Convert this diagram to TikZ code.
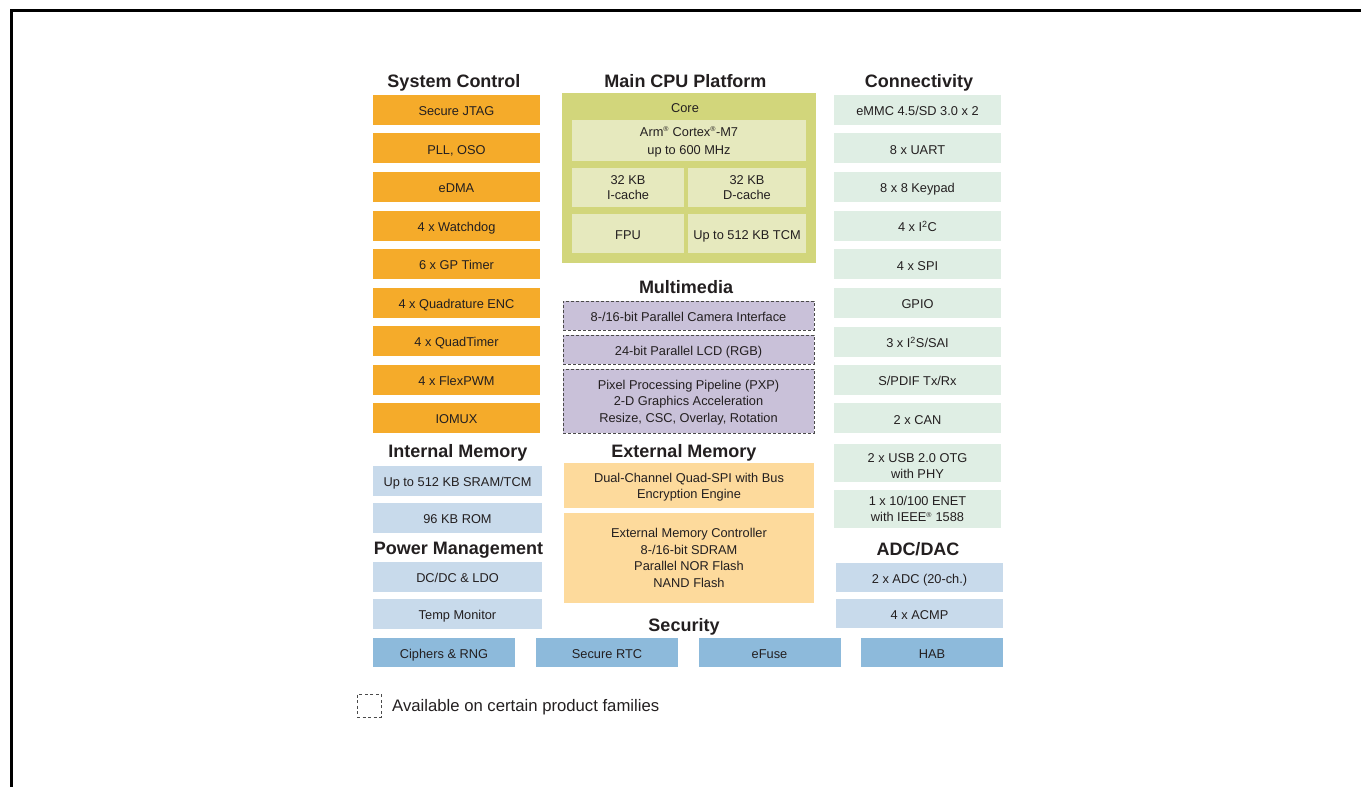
\documentclass[tikz,border=0pt]{standalone}
\usepackage{fontspec}
\setmainfont{Liberation Sans}
\definecolor{txt}{HTML}{231F20}
\definecolor{sysor}{HTML}{F5AB2A}
\definecolor{memblue}{HTML}{C8DAEB}
\definecolor{secblue}{HTML}{8DBADB}
\definecolor{congreen}{HTML}{DFEEE4}
\definecolor{extpeach}{HTML}{FDDA9C}
\definecolor{mmlav}{HTML}{C9C1D9}
\definecolor{cpuolive}{HTML}{D2D67B}
\definecolor{cpuin}{HTML}{E6E9BE}
\definecolor{dashgray}{HTML}{4A4A4A}
\begin{document}
\begin{tikzpicture}[x=1pt,y=-1pt,
  blk/.style={draw=none, inner sep=0pt, align=center, text=txt, text depth=0pt,
    font=\fontsize{12.8}{16}\selectfont},
  one/.style={text height=12pt, text depth=0pt},
  sysbox/.style={blk, one, fill=sysor, minimum width=167pt, minimum height=30pt},
  membox/.style={blk, one, fill=memblue, minimum width=169pt, minimum height=30pt},
  conbox/.style={blk, one, fill=congreen, minimum width=167pt, minimum height=30pt},
  adcbox/.style={blk, one, fill=memblue, minimum width=167pt, minimum height=29pt},
  secbox/.style={blk, one, fill=secblue, minimum width=142pt, minimum height=29pt},
  mmbox/.style={blk, fill=mmlav, draw=dashgray, line width=0.9pt,
    dash pattern=on 3pt off 2pt, minimum width=251pt},
  extbox/.style={blk, fill=extpeach, minimum width=250pt},
  cpuinbox/.style={blk, fill=cpuin},
  hd/.style={inner sep=0pt, text=txt, font=\bfseries\fontsize{18}{20}\selectfont,
    text height=13pt, text depth=3.5pt}
]
\useasboundingbox (0,0) rectangle (1361,787);

% frame
\coordinate (fbl) at (11.3,800);
\coordinate (ftl) at (11.3,10.7);
\coordinate (ftr) at (1375,10.7);
\draw[line width=2.5pt, line join=miter] (fbl) -- (ftl) -- (ftr);

% headings
\node[hd] (hsys) at (454,82.5) {System Control};
\node[hd] (hcpu) at (685.5,82.5) {Main CPU Platform};
\node[hd] (hcon) at (919,83) {Connectivity};
\node[hd] (hmm) at (686,289) {Multimedia};
\node[hd] (hint) at (458,452.5) {Internal Memory};
\node[hd] (hext) at (684,452.5) {External Memory};
\node[hd] (hpow) at (458.5,550) {Power Management};
\node[hd] (hadc) at (918,551) {ADC/DAC};
\node[hd] (hsec) at (684,627) {Security};

% system control
\node[sysbox] (jtag) at (456.5,109.5) {Secure JTAG};
\node[sysbox] (pll) at (456.5,148) {PLL, OSO};
\node[sysbox] (edma) at (456.5,186.5) {eDMA};
\node[sysbox] (wdog) at (456.5,225.5) {4 x Watchdog};
\node[sysbox] (gpt) at (456.5,263.5) {6 x GP Timer};
\node[sysbox] (qenc) at (456.5,302.5) {4 x Quadrature ENC};
\node[sysbox] (qtmr) at (456.5,340.5) {4 x QuadTimer};
\node[sysbox] (pwm) at (456.5,379.5) {4 x FlexPWM};
\node[sysbox] (iomux) at (456.5,417.5) {IOMUX};

% internal memory & power
\node[membox] (sram) at (457.5,480.5) {Up to 512 KB SRAM/TCM};
\node[membox] (rom) at (457.5,517.5) {96 KB ROM};
\node[membox] (dcdc) at (457.5,576.5) {DC/DC \& LDO};
\node[membox] (temp) at (457.5,613.5) {Temp Monitor};

% CPU platform
\node[blk, fill=cpuolive, minimum width=254pt, minimum height=170pt] (cpu) at (689,178) {};
\node[blk, one] (core) at (685,106.5) {Core};
\node[cpuinbox, minimum width=234pt, minimum height=41pt, font=\fontsize{12.8}{18}\selectfont] (arm) at (689,140.5)
  {Arm\textsuperscript{\fontsize{7}{7}\selectfont®} Cortex\textsuperscript{\fontsize{7}{7}\selectfont®}-M7\\up to 600 MHz};
\node[cpuinbox, minimum width=112pt, minimum height=39pt, font=\fontsize{12.8}{15}\selectfont] (icache) at (628,187.5) {32 KB\\I-cache};
\node[cpuinbox, minimum width=118pt, minimum height=39pt, font=\fontsize{12.8}{15}\selectfont] (dcache) at (747,187.5) {32 KB\\D-cache};
\node[cpuinbox, one, minimum width=112pt, minimum height=39pt] (fpu) at (628,233.5) {FPU};
\node[cpuinbox, one, minimum width=118pt, minimum height=39pt] (tcm) at (747,233.5) {Up to 512 KB TCM};

% multimedia
\node[mmbox, one, minimum height=29pt] (cam) at (688.5,315.5) {8-/16-bit Parallel Camera Interface};
\node[mmbox, one, minimum height=29pt] (lcd) at (688.5,349.5) {24-bit Parallel LCD (RGB)};
\node[mmbox, minimum height=64pt, font=\fontsize{12.8}{16.4}\selectfont] (pxp) at (688.5,401)
  {Pixel Processing Pipeline (PXP)\\2-D Graphics Acceleration\\Resize, CSC, Overlay, Rotation};

% external memory
\node[extbox, minimum height=45pt] (qspi) at (689,485.5) {Dual-Channel Quad-SPI with Bus\\Encryption Engine};
\node[extbox, minimum height=90pt, font=\fontsize{12.8}{16.7}\selectfont] (emc) at (689,558)
  {External Memory Controller\\8-/16-bit SDRAM\\Parallel NOR Flash\\NAND Flash};

% connectivity
\node[conbox] (emmc) at (917.5,109.5) {eMMC 4.5/SD 3.0 x 2};
\node[conbox] (uart) at (917.5,148) {8 x UART};
\node[conbox] (kpp) at (917.5,186.5) {8 x 8 Keypad};
\node[conbox] (i2c) at (917.5,225.5) {4 x I\textsuperscript{2}C};
\node[conbox] (spi) at (917.5,264) {4 x SPI};
\node[conbox] (gpio) at (917.5,302.5) {GPIO};
\node[conbox] (i2s) at (917.5,341.5) {3 x I\textsuperscript{2}S/SAI};
\node[conbox] (spdif) at (917.5,379.5) {S/PDIF Tx/Rx};
\node[conbox] (can) at (917.5,418) {2 x CAN};
\node[blk, fill=congreen, minimum width=167pt, minimum height=38pt, text height=30pt] (usb) at (917.5,463) {2 x USB 2.0 OTG\\with PHY};
\node[blk, fill=congreen, minimum width=167pt, minimum height=38pt] (enet) at (917.5,509) {1 x 10/100 ENET\\with IEEE\textsuperscript{\fontsize{7}{7}\selectfont®} 1588};

% ADC/DAC
\node[adcbox] (adc) at (919.5,577.5) {2 x ADC (20-ch.)};
\node[adcbox] (acmp) at (919.5,613) {4 x ACMP};

% security
\node[secbox] (cipher) at (444,652.5) {Ciphers \& RNG};
\node[secbox] (rtc) at (607,652.5) {Secure RTC};
\node[secbox] (efuse) at (769.5,652.5) {eFuse};
\node[secbox] (hab) at (932,652.5) {HAB};

% legend
\node[draw=dashgray, line width=0.9pt, dash pattern=on 3pt off 2.5pt, inner sep=0pt,
  minimum width=24pt, minimum height=23pt] (legbox) at (369,705.5) {};
\node[anchor=west, inner sep=0pt, text=txt, font=\fontsize{16.7}{20}\selectfont] (legtxt) at (392,707)
  {Available on certain product families};
\end{tikzpicture}
\end{document}
